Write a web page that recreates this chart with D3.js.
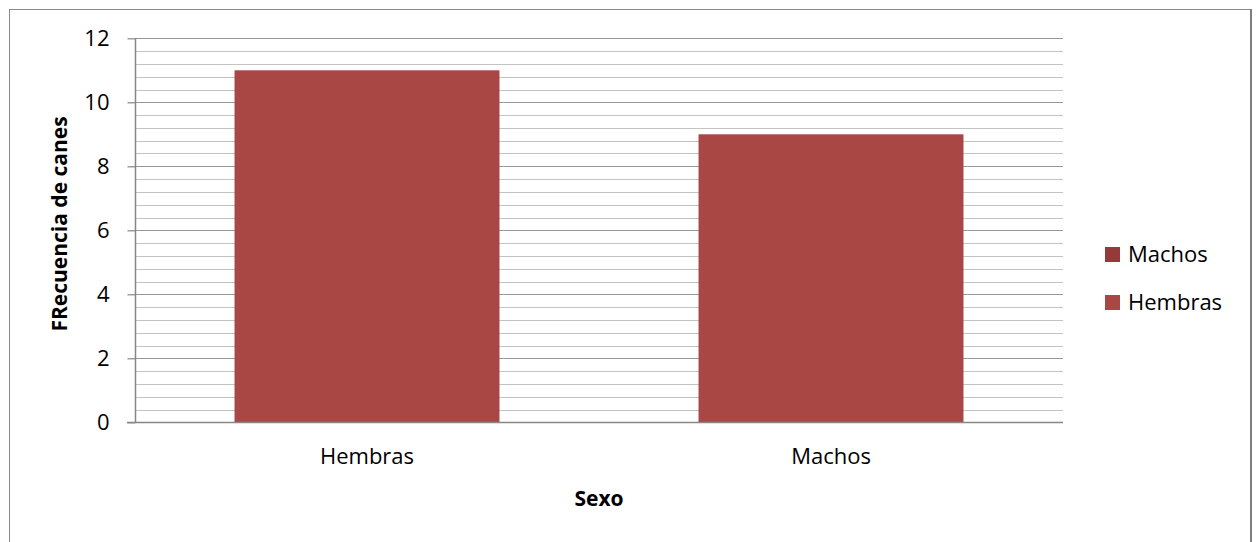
<!DOCTYPE html>
<html>
<head>
<meta charset="utf-8">
<script src="https://cdn.jsdelivr.net/npm/d3@7"></script>
<style>
  html, body { margin: 0; padding: 0; background: #fff; }
  svg { display: block; }
  text { font-family: "Open Sans", "Noto Sans", sans-serif; fill: #000; }
</style>
</head>
<body>
<svg id="chart" width="1257" height="542"></svg>
<script>
// Dogs counted by sex
const categories = ["Hembras", "Machos"];
const frequencies = [11, 9];
const legendSeries = ["Machos", "Hembras"];
const yTicks = [0, 2, 4, 6, 8, 10, 12];

const svg = d3.select("#chart");
const W = 1257, H = 542;
const plot = { left: 135, right: 1063, top: 38.3, bottom: 422.3 };

// outer frame
svg.append("rect")
  .attr("x", 9.5).attr("y", 9.5)
  .attr("width", 1241).attr("height", 540)
  .attr("fill", "#fff").attr("stroke", "#8a8a8a").attr("stroke-width", 1);
svg.append("line")
  .attr("x1", 1251).attr("x2", 1251).attr("y1", 9).attr("y2", H)
  .attr("stroke", "#7f7f7f").attr("stroke-width", 2);

const y = d3.scaleLinear().domain([0, 12]).range([plot.bottom, plot.top]);
const x = d3.scaleBand().domain(categories).range([plot.left, plot.right]).padding(0);
const barWidth = x.bandwidth() * 0.571;

// minor gridlines every 0.4
const minor = d3.range(0, 12.0001, 0.4).filter(v => Math.abs(v / 2 - Math.round(v / 2)) > 1e-6);
svg.append("g").selectAll("line").data(minor).join("line")
  .attr("x1", plot.left).attr("x2", plot.right)
  .attr("y1", d => Math.round(y(d)) + 0.5).attr("y2", d => Math.round(y(d)) + 0.5)
  .attr("stroke", "#c3c3c3").attr("stroke-width", 1.2);

// major gridlines
svg.append("g").selectAll("line").data(yTicks.filter(d => d > 0)).join("line")
  .attr("x1", plot.left).attr("x2", plot.right)
  .attr("y1", d => Math.round(y(d)) + 0.5).attr("y2", d => Math.round(y(d)) + 0.5)
  .attr("stroke", "#979797").attr("stroke-width", 1.2);

// bars
svg.append("g").selectAll("rect").data(categories).join("rect")
  .attr("x", (d) => x(d) + (x.bandwidth() - barWidth) / 2)
  .attr("width", barWidth)
  .attr("y", (d, i) => y(frequencies[i]))
  .attr("height", (d, i) => y(0) - y(frequencies[i]))
  .attr("fill", "#a94745");

// y axis
const yAxis = d3.axisLeft(y).tickValues(yTicks).tickSize(8).tickPadding(18).tickFormat(d3.format("d"));
const gy = svg.append("g").attr("transform", `translate(${plot.left + 0.5},0)`).call(yAxis);
gy.select(".domain").attr("stroke", "#868686").attr("stroke-width", 1.5)
  .attr("d", `M0,${plot.top}V${plot.bottom}`);
gy.selectAll(".tick line").attr("stroke", "#868686").attr("stroke-width", 1.2);
gy.selectAll(".tick text").attr("font-size", 22).attr("font-family", "Open Sans").attr("fill", "#000");

// x axis
const xAxis = d3.axisBottom(x).tickSize(0).tickPadding(26);
const gx = svg.append("g").attr("transform", `translate(0,${Math.round(plot.bottom) + 0.5})`).call(xAxis);
gx.select(".domain").attr("stroke", "#868686").attr("stroke-width", 1.5)
  .attr("d", `M${plot.left - 8},0H${plot.right}`);
gx.selectAll(".tick text").attr("font-size", 22).attr("font-family", "Open Sans").attr("fill", "#000");

// axis titles
svg.append("text")
  .attr("x", (plot.left + plot.right) / 2).attr("y", 506)
  .attr("text-anchor", "middle").attr("font-size", 21).attr("font-weight", "bold")
  .text("Sexo");
svg.append("text")
  .attr("transform", "translate(67,224) rotate(-90)")
  .attr("text-anchor", "middle").attr("font-size", 21).attr("font-weight", "bold")
  .text("FRecuencia de canes");

// legend
const legendColors = ["#953a38", "#a94745"];
const lg = svg.append("g").selectAll("g").data(legendSeries).join("g")
  .attr("transform", (d, i) => `translate(1105,${247 + i * 48})`);
lg.append("rect").attr("width", 15).attr("height", 15).attr("fill", (d, i) => legendColors[i]);
lg.append("text").attr("x", 23).attr("y", 15).attr("font-size", 22).text(d => d);
</script>
</body>
</html>
